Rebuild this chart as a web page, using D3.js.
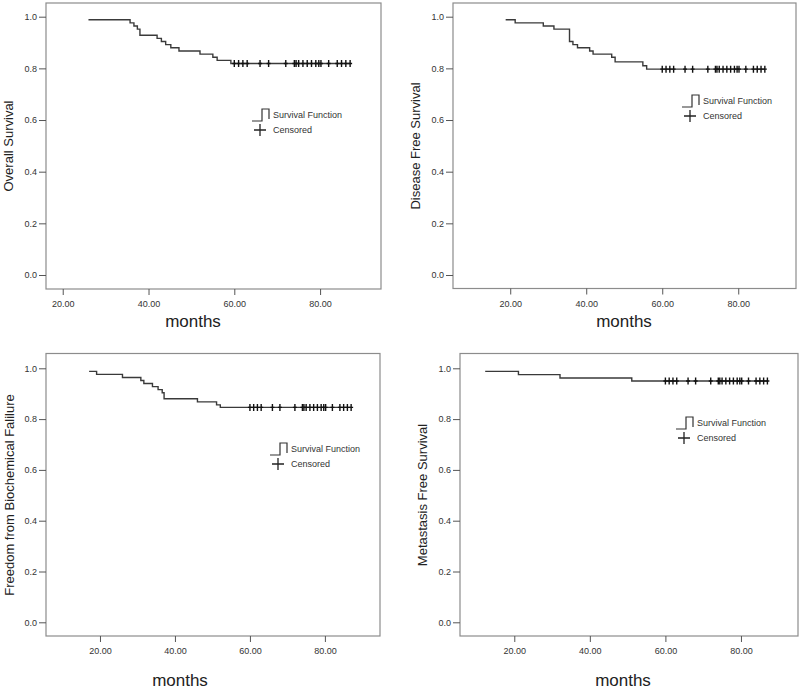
<!DOCTYPE html>
<html>
<head>
<meta charset="utf-8">
<script src="https://cdn.jsdelivr.net/npm/d3@7/dist/d3.min.js"></script>
<style>
html, body { margin: 0; padding: 0; background: #fff; }
svg { display: block; font-family: "Liberation Sans", Arial, sans-serif; }
</style>
</head>
<body>
<svg id="chart" width="800" height="691"></svg>
<script>
// ---- data ----
const panelTitles = ["Overall Survival", "Disease Free Survival", "Freedom from Biochemical Falilure", "Metastasis Free Survival"];
const xTickValues = [20, 40, 60, 80];
const yTickValues = [0, 0.2, 0.4, 0.6, 0.8, 1.0];
const legendLabels = ["Survival Function", "Censored"];
const xAxisLabel = "months";

const osStart = [26.0, 0.988];
const osTimes = [35.7, 36.6, 37.4, 38.0, 42.0, 43.0, 44.0, 45.2, 47.1, 52.0, 55.0, 56.0, 59.2];
const osSurv  = [0.976, 0.964, 0.952, 0.928, 0.916, 0.904, 0.892, 0.880, 0.867, 0.855, 0.843, 0.831, 0.819];

const dfsStart = [18.8, 0.988];
const dfsTimes = [21.3, 28.7, 31.5, 35.6, 36.5, 37.7, 40.9, 41.8, 46.7, 47.6, 54.9, 55.9];
const dfsSurv  = [0.976, 0.964, 0.952, 0.904, 0.892, 0.880, 0.867, 0.855, 0.843, 0.825, 0.810, 0.797];

const bfStart = [17.1, 0.988];
const bfTimes = [19.1, 26.0, 30.9, 31.7, 34.0, 35.5, 36.6, 37.1, 46.0, 51.1, 52.1];
const bfSurv  = [0.976, 0.964, 0.952, 0.940, 0.928, 0.916, 0.904, 0.880, 0.868, 0.856, 0.846];

const mfsStart = [12.3, 0.988];
const mfsTimes = [21.1, 32.1, 51.1];
const mfsSurv  = [0.975, 0.962, 0.950];

const censoredMonths = [60, 61, 62, 63, 66, 68, 72, 74, 74.4, 75, 76, 77, 78, 79, 79.7, 80.2, 82, 84, 85, 86, 87];

// ---- layout (positions/sizes) ----
const panels = [
  { start: osStart, times: osTimes, surv: osSurv, xDomain: [16.1, 94.2],
    frame: { l: 46, r: 381, t: 3, b: 289 }, yRange: [275, 16.7],
    yLab: { x: 13, y: 146 }, mLab: { x: 193, y: 327 }, leg: { x: 252, y: 109 } },
  { start: dfsStart, times: dfsTimes, surv: dfsSurv, xDomain: [4.94, 95.2],
    frame: { l: 453, r: 796, t: 3, b: 288.5 }, yRange: [275, 16.7],
    yLab: { x: 420, y: 146 }, mLab: { x: 624, y: 327 }, leg: { x: 682, y: 95 } },
  { start: bfStart, times: bfTimes, surv: bfSurv, xDomain: [5.6, 94.7],
    frame: { l: 46, r: 380, t: 353.5, b: 636 }, yRange: [622.3, 368.3],
    yLab: { x: 14, y: 495 }, mLab: { x: 180, y: 686 }, leg: { x: 270, y: 443 } },
  { start: mfsStart, times: mfsTimes, surv: mfsSurv, xDomain: [5.63, 95.1],
    frame: { l: 460, r: 798, t: 353.5, b: 636 }, yRange: [622.3, 368.3],
    yLab: { x: 427, y: 495 }, mLab: { x: 623, y: 686 }, leg: { x: 676, y: 417 } }
];

const svg = d3.select("#chart");

panels.forEach((p, i) => {
  const f = p.frame;
  const x = d3.scaleLinear().domain(p.xDomain).range([f.l, f.r]);
  const y = d3.scaleLinear().domain([0, 1]).range(p.yRange);
  const g = svg.append("g");

  // frame
  g.append("rect").attr("x", f.l).attr("y", f.t)
    .attr("width", f.r - f.l).attr("height", f.b - f.t)
    .attr("fill", "#fff").attr("stroke", "#8c8c8c").attr("stroke-width", 1.2);

  // x axis
  const xAxis = d3.axisBottom(x).tickValues(xTickValues).tickFormat(d3.format(".2f"))
    .tickSize(6).tickSizeOuter(0);
  const gx = g.append("g").attr("transform", `translate(0,${f.b})`).call(xAxis);
  gx.select(".domain").remove();
  gx.selectAll(".tick line").attr("stroke", "#555");
  gx.selectAll(".tick text").attr("font-size", 9).attr("fill", "#333")
    .attr("font-family", "Liberation Sans, Arial, sans-serif").attr("dy", "1.05em");

  // y axis
  const yAxis = d3.axisLeft(y).tickValues(yTickValues).tickFormat(d3.format(".1f"))
    .tickSize(7).tickSizeOuter(0).tickPadding(2);
  const gy = g.append("g").attr("transform", `translate(${f.l},0)`).call(yAxis);
  gy.select(".domain").remove();
  gy.selectAll(".tick line").attr("stroke", "#555");
  gy.selectAll(".tick text").attr("font-size", 9).attr("fill", "#333")
    .attr("font-family", "Liberation Sans, Arial, sans-serif");

  // y label
  g.append("text").attr("transform", `translate(${p.yLab.x},${p.yLab.y}) rotate(-90)`)
    .attr("text-anchor", "middle").attr("font-size", 13).attr("fill", "#222")
    .text(panelTitles[i]);

  // x label
  g.append("text").attr("x", p.mLab.x).attr("y", p.mLab.y)
    .attr("text-anchor", "middle").attr("font-size", 17).attr("fill", "#222")
    .text(xAxisLabel);

  // survival step curve
  const finalS = p.surv[p.surv.length - 1];
  const pts = [p.start].concat(p.times.map((t, k) => [t, p.surv[k]]))
    .concat([[d3.max(censoredMonths), finalS]]);
  const line = d3.line().x(d => x(d[0])).y(d => y(d[1])).curve(d3.curveStepAfter);
  g.append("path").attr("d", line(pts)).attr("fill", "none")
    .attr("stroke", "#3a3a3a").attr("stroke-width", 1.4);

  // censored marks
  const cy = y(finalS);
  g.selectAll(null).data(censoredMonths).enter().append("path")
    .attr("d", d => `M${x(d)},${cy - 3.5}V${cy + 3.5}M${x(d) - 2},${cy}H${x(d) + 2}`)
    .attr("stroke", "#111").attr("stroke-width", 1.4).attr("fill", "none");

  // legend
  const lx = p.leg.x, ly = p.leg.y;
  g.append("path")
    .attr("d", `M${lx},${ly + 12}H${lx + 10}V${ly}H${lx + 17}V${ly + 10}`)
    .attr("fill", "none").attr("stroke", "#333").attr("stroke-width", 1.2);
  g.append("text").attr("x", lx + 21).attr("y", ly + 9).attr("font-size", 9)
    .attr("fill", "#333").text(legendLabels[0]);
  const px = lx + 8, py = ly + 21;
  g.append("path")
    .attr("d", `M${px - 6},${py}H${px + 6}M${px},${py - 6}V${py + 6}`)
    .attr("stroke", "#222").attr("stroke-width", 1.3).attr("fill", "none");
  g.append("text").attr("x", lx + 21).attr("y", ly + 24).attr("font-size", 9)
    .attr("fill", "#333").text(legendLabels[1]);
});
</script>
</body>
</html>
